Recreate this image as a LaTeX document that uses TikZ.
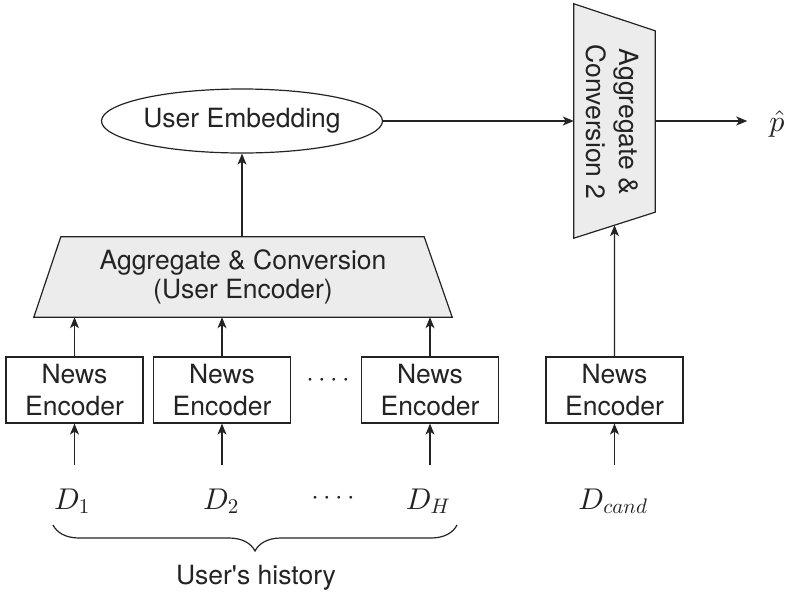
\documentclass[tikz,border=0pt]{standalone}
\usepackage{fontspec}
\setmainfont{TeX Gyre Heros}
\DeclareFontShape{OML}{cmm}{m}{it}{<-> cmmi10}{}
\DeclareFontShape{OT1}{cmr}{m}{n}{<-> cmr10}{}
\DeclareFontShape{OMS}{cmsy}{m}{n}{<-> cmsy10}{}
\usetikzlibrary{arrows.meta,shapes.geometric,decorations.pathreplacing,calc,backgrounds}
\definecolor{blockfill}{RGB}{235,236,235}
\definecolor{ink}{RGB}{35,35,35}
\begin{document}
\begin{tikzpicture}[x=1pt,y=-1pt,
  every node/.style={font=\fontsize{26.5}{32}\selectfont, text=ink},
  enc/.style={draw=ink, line width=1.2pt, minimum width=137pt, minimum height=66pt,
    align=center, inner sep=0pt},
  arr/.style={draw=ink, line width=1.2pt, -{Stealth[length=11pt,width=9pt,inset=3pt]}},
  doc/.style={font=\fontsize{30}{36}\selectfont, inner sep=0pt, outer ysep=24pt, anchor=base},
  dots/.style={font=\fontsize{27}{32}\selectfont, inner sep=0pt, anchor=base},
  block/.style={draw=ink, fill=blockfill, line width=1.2pt, line join=miter},
  frame/.style={inner sep=0pt, align=center}]
\useasboundingbox (0,0) rectangle (788,598);

% news encoders
\node[enc] (ne1) at (74.5,390) {News\\Encoder};
\node[enc] (ne2) at (222,390) {News\\Encoder};
\node[enc] (ne3) at (430,390) {News\\Encoder};
\node[enc] (ne4) at (614.5,390) {News\\Encoder};
\node[dots] (dotsA) at (328,386) {$\cdotp\cdotp\cdotp\cdotp$};

% inputs
\node[doc] (d1) at (72,509) {$D_1$};
\node[doc] (d2) at (221,509) {$D_2$};
\node[doc] (dh) at (428,509) {$D_H$};
\node[doc] (dc) at (613,509) {$D_{cand}$};
\node[dots] (dotsB) at (333,504) {$\cdotp\cdotp\cdotp\cdotp$};

% user encoder
\node[frame, minimum width=418pt, minimum height=80pt, font=\fontsize{26.5}{29}\selectfont]
  (uenc) at (243,277) {Aggregate \& Conversion\\(User Encoder)};
\begin{scope}[on background layer]
  \draw[block] (uenc.south west) -- ([xshift=27pt]uenc.north west)
    -- ([xshift=-28pt]uenc.north east) -- (uenc.south east) -- cycle;
\end{scope}

% user embedding
\node[ellipse, draw=ink, line width=1.2pt, minimum width=281pt, minimum height=64pt,
  inner sep=0pt] (emb) at (242,121) {User Embedding};

% second aggregation block
\node[frame, minimum width=81pt, minimum height=234pt] (agg2) at (614.5,121) {};
\begin{scope}[on background layer]
  \draw[block] (agg2.north west) -- ([yshift=-27pt]agg2.north east)
    -- ([yshift=26pt]agg2.south east) -- (agg2.south west) -- cycle;
\end{scope}
\node[rotate=-90, align=center, inner sep=0pt, font=\fontsize{26.5}{33}\selectfont]
  (agg2txt) at (612,122) {Aggregate \&\\Conversion 2};

% output
\node[font=\fontsize{30}{36}\selectfont, inner sep=0pt, anchor=base]
  (phat) at (777,131) {$\hat{p}$};

% connectors
\foreach \d/\n in {d1/ne1, d2/ne2, dh/ne3, dc/ne4}
  \draw[arr] (\n.south |- \d.north) -- (\n.south);
\foreach \n in {ne1, ne2, ne3}
  \draw[arr] (\n.north) -- (\n.north |- uenc.south);
\draw[arr] (uenc.north -| emb.south) -- (emb.south);
\draw[arr] (ne4.north) -- ($(agg2.south west)!0.5!([yshift=26pt]agg2.south east)$);
\draw[arr] (emb.east) -- (emb.east -| agg2.west);
\draw[arr] (emb.east -| agg2.east) -- ([xshift=-22pt]emb.east -| phat.west);

% history brace
\coordinate (hl) at (53,525);
\coordinate (hr) at (457,525);
\draw[ink, line width=1.2pt, decorate, decoration={brace, mirror, amplitude=26pt}]
  (hl) -- (hr);
\node (hist) at (256,578) {User\textquotesingle s history};
\end{tikzpicture}
\end{document}
